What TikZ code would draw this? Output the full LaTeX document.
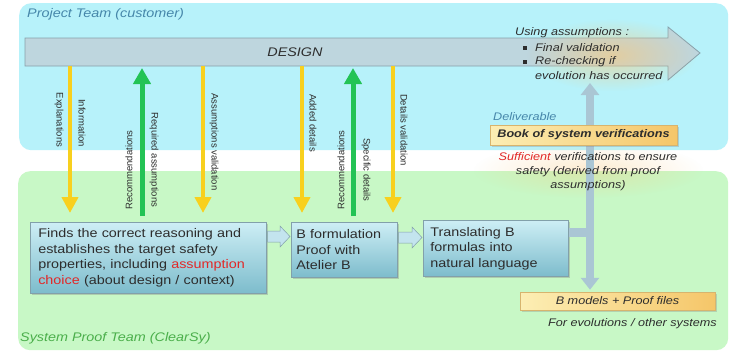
\documentclass[tikz,border=0pt]{standalone}
\usepackage{fontspec}
\setmainfont[FakeStretch=1.15]{Liberation Sans}
\newfontfamily\vfont{Liberation Sans}
\usetikzlibrary{arrows.meta,shadows,fadings,calc}
\definecolor{panelblue}{RGB}{183,242,250}
\definecolor{panelgreen}{RGB}{200,248,198}
\definecolor{designfill}{RGB}{190,214,222}
\definecolor{designline}{RGB}{135,160,170}
\definecolor{ylw}{RGB}{248,208,30}
\definecolor{grn}{RGB}{35,195,85}
\definecolor{boxtop}{RGB}{205,238,245}
\definecolor{boxbot}{RGB}{125,188,204}
\definecolor{boxline}{RGB}{130,160,170}
\definecolor{barrfill}{RGB}{195,228,238}
\definecolor{titleblue}{RGB}{70,135,170}
\definecolor{titlegreen}{RGB}{75,175,75}
\definecolor{txt}{RGB}{45,45,45}
\definecolor{conn}{RGB}{170,198,212}
\definecolor{suff}{RGB}{225,40,40}
\definecolor{glow}{RGB}{250,200,120}
\definecolor{delivY}{RGB}{252,238,180}
\definecolor{delivM}{RGB}{255,250,228}
\definecolor{delivO}{RGB}{245,198,105}
\definecolor{delivline}{RGB}{215,180,110}
\tikzfading[name=softglow, inner color=transparent!0, outer color=transparent!100]
\newcommand\sqbul{\rule{0.3em}{0.3em}}
\begin{document}
\begin{tikzpicture}[x=1pt,y=-1pt,
  panel/.style={rounded corners=12pt, inner sep=0pt, anchor=north west},
  procbox/.style={draw=boxline, line width=0.6pt, top color=boxtop, bottom color=boxbot,
    drop shadow={shadow xshift=2pt, shadow yshift=-2pt, opacity=0.35},
    inner ysep=0pt, align=left, font=\fontsize{12.5}{15.5}\selectfont, text=txt, anchor=north west},
  blockarr/.style={fill=barrfill, draw=boxline, line width=0.5pt},
  deliv/.style={draw=delivline, line width=0.5pt, left color=delivY, middle color=delivM, right color=delivO,
    drop shadow={shadow xshift=1.5pt, shadow yshift=-1.5pt, opacity=0.3}, inner sep=0pt, text=txt},
  yarrow/.style={draw=ylw, line width=4.5pt, -{Triangle[width=16pt,length=16pt]}, shorten >=9pt},
  garrow/.style={draw=grn, line width=5pt, -{Triangle[width=17pt,length=16pt]}, shorten <=6pt, shorten >=2pt},
  connarrow/.style={draw=conn, line width=8pt, {Triangle[width=18pt,length=12pt]}-{Triangle[width=18pt,length=12pt]}},
  vlab/.style={font=\vfont\fontsize{9.5}{11}\selectfont, text=txt, inner sep=0pt},
  tsmall/.style={font=\fontsize{11}{14}\selectfont\itshape, text=txt, inner sep=0pt},
  ttitle/.style={font=\fontsize{12.5}{15}\selectfont\itshape, inner sep=0pt}
]
\useasboundingbox (0,0) rectangle (732,356);
\fill[white] (0,0) rectangle (732,356);
% panels
\node[panel, fill=panelblue, minimum width=709pt, minimum height=147pt] (ptop) at (19,3) {};
\node[panel, fill=panelgreen, minimum width=710pt, minimum height=179pt] (pbot) at (18,171) {};
\node[ttitle, text=titleblue, anchor=west] (ttop) at (27,14) {Project Team (customer)};
\node[ttitle, text=titlegreen, anchor=west] (tbot) at (20,338) {System Proof Team (ClearSy)};
% design arrow
\filldraw[fill=designfill, draw=designline, line width=0.8pt]
  (25,38) -- (668,38) -- (668,27) -- (700,53) -- (668,80) -- (668,66) -- (25,66) -- cycle;
\node[inner sep=0pt, outer sep=0pt, minimum width=643pt, minimum height=28pt, anchor=north west] (design) at (25,38) {};
\node[ttitle, text=txt] (dtext) at (295,52) {DESIGN};
% glows
\fill[glow, path fading=softglow, fill opacity=0.6] (612,55) ellipse (85 and 36);
\fill[glow, path fading=softglow, fill opacity=0.35] (588,170) ellipse (115 and 28);
% process boxes
\node[procbox, text width=220pt, inner xsep=8pt, minimum height=71pt] (box1) at (30,222)
  {Finds the correct reasoning and establishes the target safety properties, including {\color{suff}assumption choice} (about design / context)};
\node[procbox, text width=96pt, inner xsep=5pt, minimum height=55pt] (box2) at (291,222)
  {B formulation\\Proof with\\Atelier B};
\node[procbox, text width=131pt, inner xsep=7pt, minimum height=56pt] (box3) at (423,220)
  {Translating B\\formulas into\\natural language};
% block arrows between boxes
\path[blockarr] ($(box1.north east)+(1,9)$) -- ($(box2.north west)+(-11,9)$) -- ($(box2.north west)+(-11,4)$)
  -- ($(box2.north west)+(-1,14.5)$) -- ($(box2.north west)+(-11,25)$) -- ($(box2.north west)+(-11,20)$)
  -- ($(box1.north east)+(1,20)$) -- cycle;
\path[blockarr] ($(box2.north east)+(1,10)$) -- ($(box3.north west)+(-11,12)$) -- ($(box3.north west)+(-11,7)$)
  -- ($(box3.north west)+(-1,17.5)$) -- ($(box3.north west)+(-11,28)$) -- ($(box3.north west)+(-11,23)$)
  -- ($(box2.north east)+(1,21)$) -- cycle;
% arrow x positions
\coordinate (xa) at (70,0);
\coordinate (xb) at (142,0);
\coordinate (xc) at (203,0);
\coordinate (xd) at (302,0);
\coordinate (xe) at (353,0);
\coordinate (xf) at (393,0);
\coordinate (xv) at (590,0);
\coordinate (jn) at (590,232);
% vertical arrows
\draw[yarrow] (design.south -| xa) -- (box1.north -| xa);
\draw[garrow] (box1.north -| xb) -- (design.south -| xb);
\draw[yarrow] (design.south -| xc) -- (box1.north -| xc);
\draw[yarrow] (design.south -| xd) -- (box2.north -| xd);
\draw[garrow] (box2.north -| xe) -- (design.south -| xe);
\draw[yarrow] (design.south -| xf) -- (box2.north -| xf);
% labels of vertical arrows
\node[vlab, rotate=-90] (lexpl) at (59,120) {Explanations};
\node[vlab, rotate=-90] (linfo) at (82,123) {Information};
\node[vlab, rotate=90] (lrec1) at (129,170) {Recommendations};
\node[vlab, rotate=-90] (lreq) at (154,160) {Required assumptions};
\node[vlab, rotate=-90] (lassv) at (214,142) {Assumptions validation};
\node[vlab, rotate=-90] (ladd) at (313,123) {Added details};
\node[vlab, rotate=90] (lrec2) at (341,170) {Recommendations};
\node[vlab, rotate=-90] (lspec) at (366,170) {Specific details};
\node[vlab, rotate=-90] (ldetv) at (404,130) {Details validation};
% deliverable boxes
\node[deliv, minimum width=195pt, minimum height=18pt, font=\fontsize{11}{13}\selectfont\itshape] (bmod) at (617.5,301) {B models + Proof files};
% connector
\draw[connarrow, shorten <=2pt, shorten >=17pt] (bmod.north -| xv) -- (design.south -| xv);
\draw[draw=conn, line width=9pt] (box3.east |- jn) -- (jn);
\node[deliv, minimum width=187pt, minimum height=20pt, font=\fontsize{11}{13}\selectfont\bfseries\itshape] (book) at (583.5,135) {Book of system verifications};
% texts
\node[tsmall, text=titleblue, anchor=west] (deliv) at (493,117) {Deliverable};
\node[tsmall] (suff1) at (588,157) {{\color{suff}Sufficient} verifications to ensure};
\node[tsmall] (suff2) at (588,172) {safety (derived from proof};
\node[tsmall] (suff3) at (588,186) {assumptions)};
\node[tsmall, anchor=east] (forev) at (717,324) {For evolutions / other systems};
\node[tsmall, anchor=west] (use0) at (515,33) {Using assumptions :};
\node[tsmall, anchor=west] (bul1) at (523,48) {\sqbul};
\node[tsmall, anchor=west] (use1) at (535,48) {Final validation};
\node[tsmall, anchor=west] (bul2) at (523,62) {\sqbul};
\node[tsmall, anchor=west] (use2) at (535,62) {Re-checking if};
\node[tsmall, anchor=west] (use3) at (535,76) {evolution has occurred};
\end{tikzpicture}
\end{document}
